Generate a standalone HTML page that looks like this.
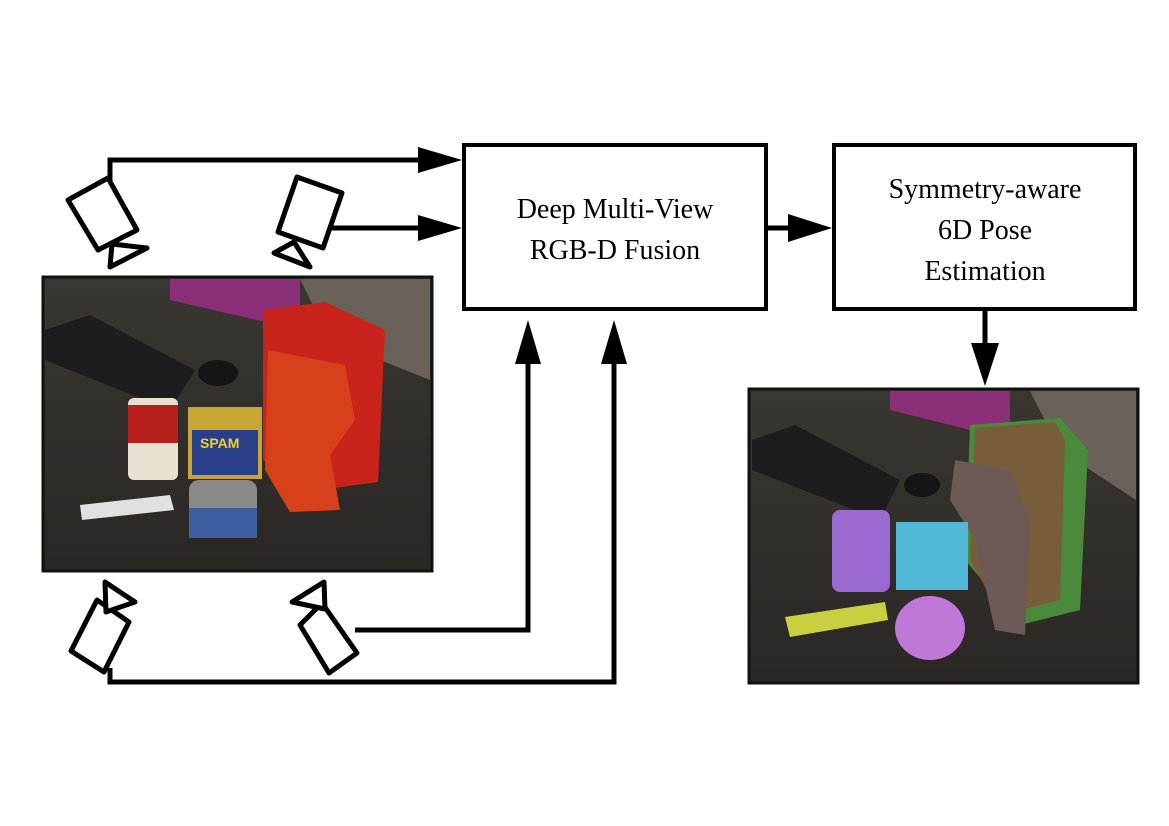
<!DOCTYPE html>
<html><head><meta charset="utf-8"><style>
html,body{margin:0;padding:0;background:#fff;width:1169px;height:826px;overflow:hidden}
svg{display:block}
text{font-family:"Liberation Serif",serif;font-size:28px;fill:#000}
</style></head><body>
<svg width="1169" height="826" viewBox="0 0 1169 826" xmlns="http://www.w3.org/2000/svg">
<defs>
<linearGradient id="desk" x1="0" y1="0" x2="0" y2="1"><stop offset="0" stop-color="#3a3631"/><stop offset="1" stop-color="#2a2724"/></linearGradient>
</defs>
<!-- left photo -->
<g>
<rect x="43" y="277" width="389" height="294" fill="url(#desk)" stroke="#111" stroke-width="3"/>
<polygon points="170,279 300,279 300,330 170,300" fill="#8a2f78"/>
<polygon points="300,279 430,279 430,380 330,340" fill="#6a6158"/>
<polygon points="45,330 90,315 195,370 170,410 45,360" fill="#1d1d1f"/>
<ellipse cx="218" cy="373" rx="20" ry="13" fill="#151515"/>
<polygon points="263,310 325,302 385,330 378,482 320,490 263,460" fill="#c8241c"/>
<polygon points="268,350 345,365 355,420 330,455 340,510 290,512 265,470" fill="#d8401c"/>
<rect x="128" y="398" width="50" height="82" rx="6" fill="#e8e0d0"/>
<rect x="128" y="405" width="50" height="38" fill="#b8201c"/>
<rect x="188" y="407" width="74" height="72" fill="#c9a533"/>
<rect x="192" y="430" width="66" height="45" fill="#2a3f8a"/>
<text x="200" y="448" style="font-family:'Liberation Sans',sans-serif;font-size:14px;font-weight:bold;fill:#f0d030">SPAM</text>
<rect x="189" y="480" width="68" height="58" rx="10" fill="#8a8a8a"/>
<rect x="189" y="508" width="68" height="30" fill="#3d5fa0"/>
<polygon points="80,505 170,495 174,510 82,520" fill="#e0e0e0"/>
</g>
<!-- right photo -->
<g>
<rect x="749" y="389" width="389" height="294" fill="url(#desk)" stroke="#111" stroke-width="3"/>
<polygon points="890,391 1010,391 1010,440 890,410" fill="#8a2f78"/>
<polygon points="1030,391 1136,391 1136,500 1060,450" fill="#6a6158"/>
<polygon points="752,440 795,425 900,480 880,520 752,470" fill="#1d1d1f"/>
<ellipse cx="922" cy="485" rx="18" ry="12" fill="#151515"/>
<polygon points="970,425 1060,418 1088,450 1080,610 1020,625 965,560" fill="#4a8a3a"/>
<polygon points="975,428 1055,422 1065,440 1060,600 1000,615 970,560" fill="#8a4a3a" opacity="0.7"/>
<polygon points="955,460 1010,470 1030,520 1025,635 995,630 975,540 950,500" fill="#6e5a55"/>
<rect x="832" y="510" width="58" height="82" rx="8" fill="#9b6ad0"/>
<rect x="896" y="522" width="72" height="68" fill="#52b8d8"/>
<ellipse cx="930" cy="628" rx="35" ry="32" fill="#c078d8"/>
<polygon points="785,617 885,602 888,620 790,637" fill="#c8d040"/>
</g>
<!-- boxes -->
<rect x="464" y="145" width="302" height="164" fill="#fff" stroke="#000" stroke-width="4"/>
<text x="615" y="218" text-anchor="middle">Deep Multi-View</text>
<text x="615" y="259" text-anchor="middle">RGB-D Fusion</text>
<rect x="834" y="145" width="301" height="164" fill="#fff" stroke="#000" stroke-width="4"/>
<text x="985" y="198" text-anchor="middle">Symmetry-aware</text>
<text x="985" y="239" text-anchor="middle">6D Pose</text>
<text x="985" y="280" text-anchor="middle">Estimation</text>
<!-- connectors -->
<g stroke="#000" stroke-width="5" fill="none" stroke-linejoin="miter">
<polyline points="110,182 110,160 420,160"/>
<line x1="330" y1="228" x2="420" y2="228"/>
<line x1="768" y1="228" x2="792" y2="228"/>
<line x1="985" y1="311" x2="985" y2="345"/>
<polyline points="355,630 528,630 528,362"/>
<polyline points="110,668 110,682 614,682 614,362"/>
</g>
<g fill="#000">
<polygon points="418,147 462,160 418,173"/>
<polygon points="418,215 462,228 418,241"/>
<polygon points="788,214 832,228 788,242"/>
<polygon points="971,343 985,386 999,343"/>
<polygon points="515,364 528,320 541,364"/>
<polygon points="601,364 614,320 627,364"/>
</g>
<!-- cameras -->
<g stroke="#000" stroke-width="5" fill="#fff" stroke-linejoin="round">
<polygon points="68,200 108,178 137,230 98,250"/>
<polygon points="112,244 110,267 147,248"/>
<polygon points="297,177 342,193 323,248 278,232"/>
<polygon points="274,253 294,242 310,267"/>
<polygon points="71,651 97,600 129,622 104,672"/>
<polygon points="105,582 106,612 135,602"/>
<polygon points="300,625 322,603 357,653 329,673" />
<polygon points="292,602 324,582 325,609"/>
</g>
</svg>
</body></html>
